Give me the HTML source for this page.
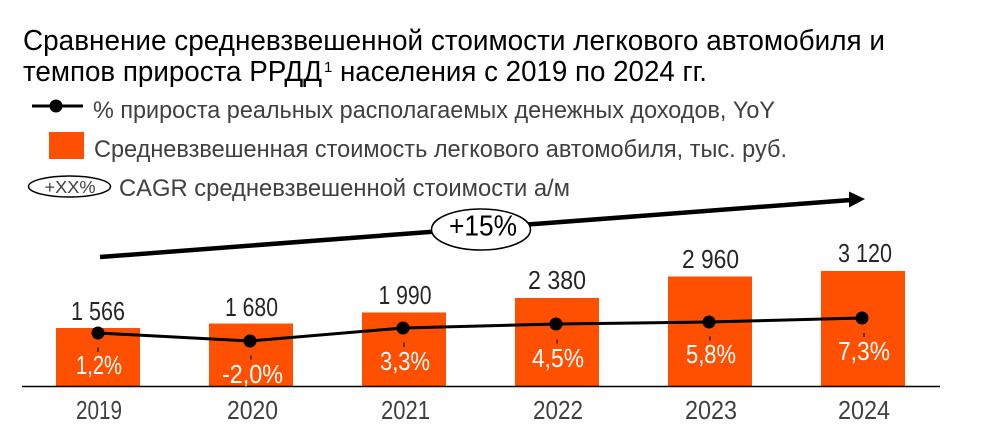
<!DOCTYPE html>
<html>
<head>
<meta charset="utf-8">
<style>
  html,body{margin:0;padding:0;background:#fff;}
  svg{display:block;}
  text{font-family:"Liberation Sans","DejaVu Sans",sans-serif;}
</style>
</head>
<body>
<svg width="990" height="431" viewBox="0 0 990 431" xmlns="http://www.w3.org/2000/svg">
  <rect x="0" y="0" width="990" height="431" fill="#fff"/>

  <!-- Title -->
  <text x="23" y="50" font-size="29" fill="#000" textLength="862" lengthAdjust="spacingAndGlyphs">Сравнение средневзвешенной стоимости легкового автомобиля и</text>
  <text x="23" y="81" font-size="29" fill="#000" textLength="299" lengthAdjust="spacingAndGlyphs">темпов прироста РРДД</text>
  <text x="324" y="72" font-size="15" fill="#000">1</text>
  <text x="340" y="81" font-size="29" fill="#000" textLength="367" lengthAdjust="spacingAndGlyphs">населения с 2019 по 2024 гг.</text>

  <!-- Legend -->
  <line x1="32" y1="106" x2="83" y2="106" stroke="#000" stroke-width="3"/>
  <circle cx="56" cy="106" r="6.5" fill="#000"/>
  <text x="93" y="118" font-size="24.5" fill="#404040" textLength="682" lengthAdjust="spacingAndGlyphs">% прироста реальных располагаемых денежных доходов, YoY</text>

  <rect x="49" y="132" width="35" height="27" fill="#FE5000"/>
  <text x="94" y="157" font-size="24.5" fill="#404040" textLength="693" lengthAdjust="spacingAndGlyphs">Средневзвешенная стоимость легкового автомобиля, тыс. руб.</text>

  <ellipse cx="69.5" cy="186.5" rx="41" ry="10.5" fill="none" stroke="#000" stroke-width="1.5"/>
  <text x="70" y="193" font-size="17.5" fill="#404040" text-anchor="middle" textLength="51" lengthAdjust="spacingAndGlyphs">+XX%</text>
  <text x="119" y="196" font-size="24.5" fill="#404040" textLength="451" lengthAdjust="spacingAndGlyphs">CAGR средневзвешенной стоимости а/м</text>

  <!-- CAGR arrow -->
  <line x1="100" y1="257" x2="851" y2="200" stroke="#000" stroke-width="4.5"/>
  <polygon points="849,191.5 865,199 849,207.5" fill="#000"/>
  <ellipse cx="481" cy="229.5" rx="49.5" ry="20.5" fill="#fff" stroke="#000" stroke-width="1.5"/>
  <text x="483" y="235.5" font-size="29" fill="#000" text-anchor="middle" textLength="68" lengthAdjust="spacingAndGlyphs">+15%</text>

  <!-- Bars -->
  <g fill="#FE5000">
    <rect x="56" y="328" width="84" height="58.5"/>
    <rect x="209" y="323.5" width="84" height="63"/>
    <rect x="362" y="312.5" width="84" height="74"/>
    <rect x="515" y="298" width="84" height="88.5"/>
    <rect x="668" y="276.5" width="84" height="110"/>
    <rect x="821" y="271" width="84" height="115.5"/>
  </g>

  <!-- Axis -->
  <line x1="22" y1="386.5" x2="940" y2="386.5" stroke="#000" stroke-width="1.5"/>

  <!-- Value labels -->
  <g font-size="26" fill="#262626" text-anchor="middle">
    <text x="98" y="320" textLength="54" lengthAdjust="spacingAndGlyphs">1 566</text>
    <text x="251.5" y="316" textLength="53" lengthAdjust="spacingAndGlyphs">1 680</text>
    <text x="405" y="304" textLength="53" lengthAdjust="spacingAndGlyphs">1 990</text>
    <text x="557" y="289" textLength="58" lengthAdjust="spacingAndGlyphs">2 380</text>
    <text x="710.5" y="268" textLength="57" lengthAdjust="spacingAndGlyphs">2 960</text>
    <text x="865" y="262" textLength="54" lengthAdjust="spacingAndGlyphs">3 120</text>
  </g>

  <!-- Leader ticks -->
  <g stroke="#262626" stroke-width="1.5">
    <line x1="98" y1="347.5" x2="98" y2="352"/>
    <line x1="251" y1="355.5" x2="251" y2="359.5"/>
    <line x1="404" y1="342.5" x2="404" y2="347"/>
    <line x1="557" y1="339.5" x2="557" y2="343.5"/>
    <line x1="710" y1="336.5" x2="710" y2="340.5"/>
    <line x1="864" y1="333" x2="864" y2="337"/>
  </g>

  <!-- Line series -->
  <polyline points="98,333 250,341 403,328 556,324 709,322 862,318" fill="none" stroke="#000" stroke-width="3" stroke-linejoin="round"/>
  <g fill="#000">
    <circle cx="98" cy="333" r="6.5"/>
    <circle cx="250" cy="341" r="6.5"/>
    <circle cx="403" cy="328" r="6.5"/>
    <circle cx="556" cy="324" r="6.5"/>
    <circle cx="709" cy="322" r="6.5"/>
    <circle cx="862" cy="318" r="6.5"/>
  </g>

  <!-- Percent labels -->
  <g font-size="25.5" fill="#fff" text-anchor="middle">
    <text x="99" y="374" textLength="46" lengthAdjust="spacingAndGlyphs">1,2%</text>
    <text x="252.5" y="383" textLength="61" lengthAdjust="spacingAndGlyphs">-2,0%</text>
    <text x="405" y="370" textLength="50" lengthAdjust="spacingAndGlyphs">3,3%</text>
    <text x="558" y="367" textLength="52" lengthAdjust="spacingAndGlyphs">4,5%</text>
    <text x="711" y="363" textLength="50" lengthAdjust="spacingAndGlyphs">5,8%</text>
    <text x="864" y="360" textLength="52" lengthAdjust="spacingAndGlyphs">7,3%</text>
  </g>

  <!-- Year labels -->
  <g font-size="26" fill="#404040" text-anchor="middle">
    <text x="99" y="419" textLength="46" lengthAdjust="spacingAndGlyphs">2019</text>
    <text x="252.5" y="419" textLength="51" lengthAdjust="spacingAndGlyphs">2020</text>
    <text x="405.5" y="419" textLength="49" lengthAdjust="spacingAndGlyphs">2021</text>
    <text x="558" y="419" textLength="50" lengthAdjust="spacingAndGlyphs">2022</text>
    <text x="711" y="419" textLength="52" lengthAdjust="spacingAndGlyphs">2023</text>
    <text x="864" y="419" textLength="52" lengthAdjust="spacingAndGlyphs">2024</text>
  </g>
</svg>
</body>
</html>
